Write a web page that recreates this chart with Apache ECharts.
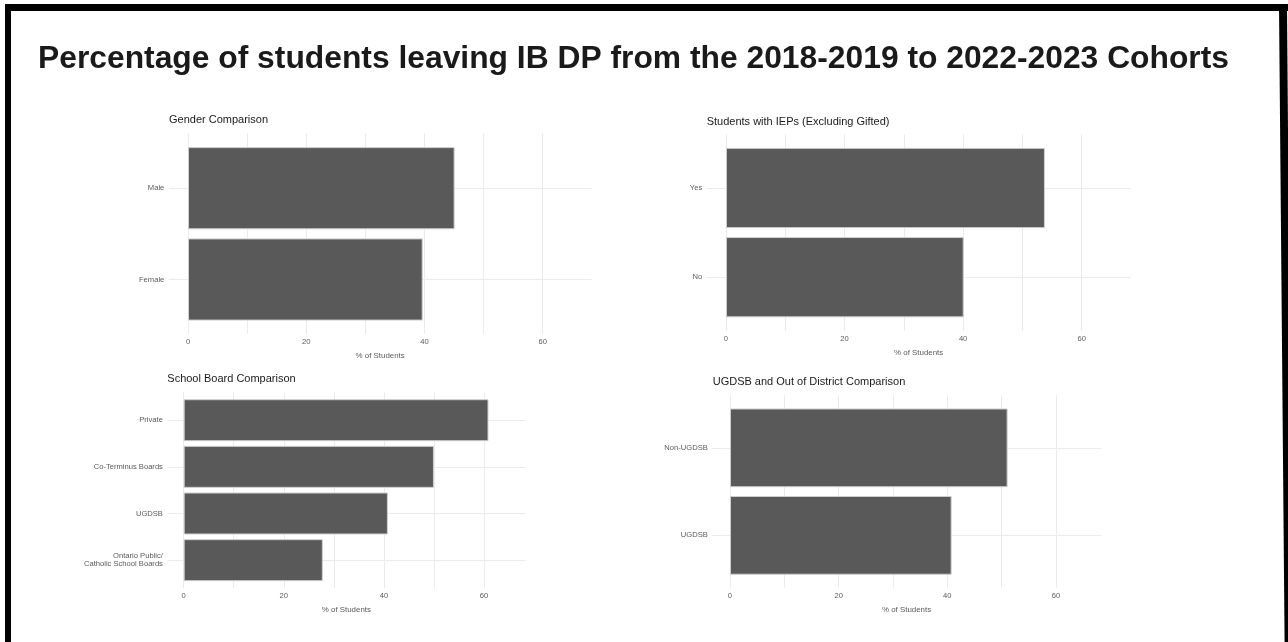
<!DOCTYPE html>
<html><head><meta charset="utf-8">
<script src="https://cdn.jsdelivr.net/npm/echarts@6/dist/echarts.min.js"></script>
<style>html,body{margin:0;padding:0;background:#fff}#c{width:1288px;height:642px}</style>
</head><body><div id="c"></div>
<script>
// ---- data ----
const mainTitle = 'Percentage of students leaving IB DP from the 2018-2019 to 2022-2023 Cohorts';
const panelTitles = ['Gender Comparison', 'Students with IEPs (Excluding Gifted)', 'School Board Comparison', 'UGDSB and Out of District Comparison'];
const genderCats = ['Male', 'Female'];
const genderVals = [45.1, 39.7];
const iepCats = ['Yes', 'No'];
const iepVals = [53.8, 40.1];
const boardCats = ['Private', 'Co-Terminus Boards', 'UGDSB', 'Ontario Public/\nCatholic School Boards'];
const boardVals = [60.9, 50.0, 40.8, 27.8];
const districtCats = ['Non-UGDSB', 'UGDSB'];
const districtVals = [51.1, 40.8];
const xTickLabels = [0, 20, 40, 60];
const xAxisName = '% of Students';

// ---- layout ----
const X_MIN = -3.25, X_MAX = 68.25;
const FONT = "'Liberation Sans', Arial, sans-serif";
const panels = [
  {cats: genderCats, vals: genderVals, left: 168.8, right: 591.5, c1: 188.2, cn: 279.5, tx: 169, ty: 120.7},
  {cats: iepCats, vals: iepVals, left: 706.7, right: 1130.6, c1: 188.0, cn: 277.2, tx: 706.7, ty: 122.7},
  {cats: boardCats, vals: boardVals, left: 167.4, right: 525.3, c1: 420.2, cn: 560.15, tx: 167.3, ty: 380},
  {cats: districtCats, vals: districtVals, left: 712.3, right: 1100.8, c1: 447.85, cn: 535.35, tx: 712.7, ty: 382.7}
];

const grid = [], xAxis = [], yAxis = [], series = [];
const titles = [{
  text: mainTitle, left: 38, top: 43, padding: 0,
  textStyle: {fontFamily: FONT, fontWeight: 'bold', fontSize: 31.8, color: '#1a1a1a'}
}];

panels.forEach((p, i) => {
  const n = p.cats.length;
  const s = (p.cn - p.c1) / (n - 1);
  const w = p.right - p.left;
  // background grid (full panel with ggplot-style expansion)
  grid.push({left: p.left, width: w, top: p.c1 - 0.6 * s, height: (p.cn - p.c1) + 1.2 * s});
  // bar grid (category bands)
  grid.push({left: p.left, width: w, top: p.c1 - 0.5 * s, height: (p.cn - p.c1) + s});
  xAxis.push({
    type: 'value', gridIndex: 2 * i, min: X_MIN, max: X_MAX, minInterval: 10, maxInterval: 10,
    axisLine: {show: false}, axisTick: {show: false},
    axisLabel: {
      showMinLabel: false, showMaxLabel: false, margin: 4, fontSize: 7.6, color: '#5a5a5a', fontFamily: FONT,
      formatter: v => xTickLabels.some(t => Math.abs(t - v) < 1e-6) ? String(Math.round(v)) : ''
    },
    splitLine: {show: true, showMinLine: false, showMaxLine: false, lineStyle: {color: '#ebebeb', width: 1}},
    name: xAxisName, nameLocation: 'middle', nameGap: 18,
    nameTextStyle: {fontSize: 7.9, color: '#5a5a5a', fontFamily: FONT}
  });
  xAxis.push({type: 'value', gridIndex: 2 * i + 1, min: X_MIN, max: X_MAX, show: false});
  yAxis.push({
    type: 'value', gridIndex: 2 * i, min: -0.6, max: n - 0.4, minInterval: 1, maxInterval: 1, inverse: true,
    axisLine: {show: false}, axisTick: {show: false}, axisLabel: {show: false},
    splitLine: {show: true, showMinLine: false, showMaxLine: false, lineStyle: {color: '#ebebeb', width: 1}}
  });
  yAxis.push({
    type: 'category', gridIndex: 2 * i + 1, data: p.cats, inverse: true,
    axisLine: {show: false}, axisTick: {show: false}, splitLine: {show: false},
    axisLabel: {margin: 4.5, fontSize: 7.6, color: '#5a5a5a', fontFamily: FONT, lineHeight: 8, align: 'right'}
  });
  series.push({
    type: 'bar', xAxisIndex: 2 * i + 1, yAxisIndex: 2 * i + 1, data: p.vals,
    barCategoryGap: '10%', silent: true, z: 3,
    itemStyle: {color: '#595959', borderColor: '#cfcfcf', borderWidth: 1}
  });
  titles.push({
    text: panelTitles[i], left: p.tx, top: p.ty - 6.5, padding: 0,
    textStyle: {fontFamily: FONT, fontWeight: 'normal', fontSize: 11, color: '#1a1a1a'}
  });
});

const chart = echarts.init(document.getElementById('c'), null, {renderer: 'canvas'});
chart.setOption({
  backgroundColor: '#ffffff',
  animation: false,
  title: titles,
  grid, xAxis, yAxis, series,
  graphic: [
    {type: 'rect', shape: {x: 5, y: 4, width: 1283, height: 7}, style: {fill: '#000'}, z: 100},
    {type: 'rect', shape: {x: 5, y: 4, width: 6, height: 640}, style: {fill: '#000'}, z: 100},
    {type: 'polygon', shape: {points: [[1279, 4], [1287, 4], [1292, 642], [1284.6, 642]]}, style: {fill: '#000'}, z: 100}
  ]
});
</script></body></html>
